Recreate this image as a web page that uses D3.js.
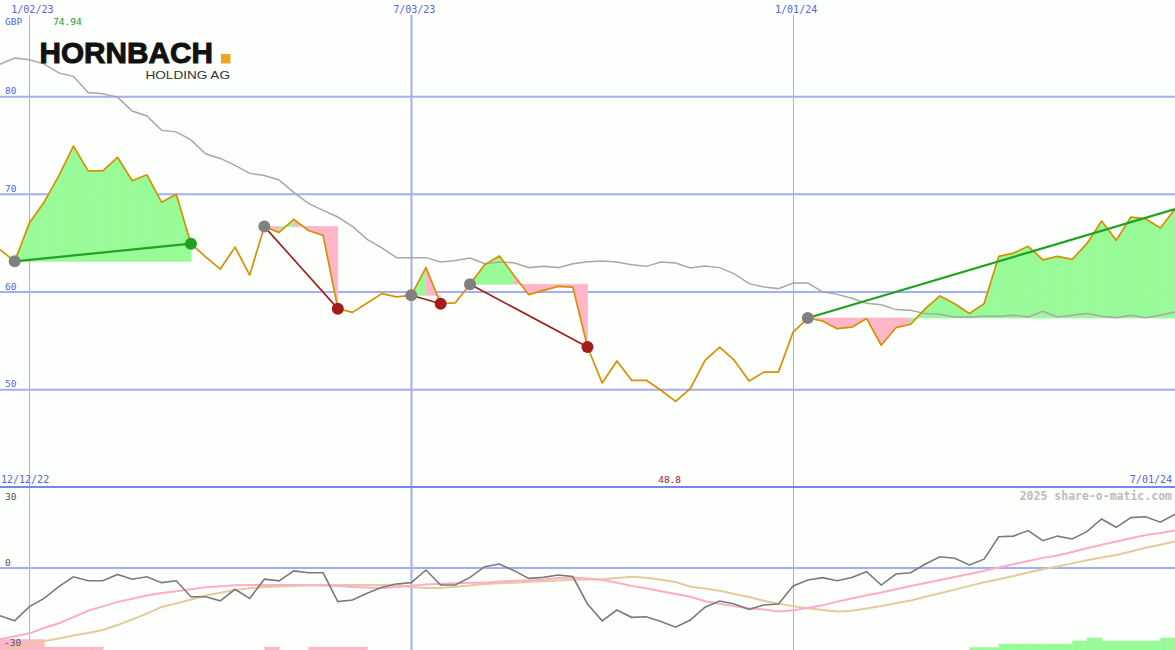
<!DOCTYPE html>
<html><head><meta charset="utf-8">
<script src="https://cdn.jsdelivr.net/npm/d3@7"></script>
<style>html,body{margin:0;padding:0;background:#fcfffc;} svg{display:block}</style>
</head><body><svg id="c" width="1175" height="650"></svg>
<script>
// ---------- data (weekly closes, GBP) ----------
const firstWeekLabel = "12/19/22";
const lastWeekLabel = "07/01/24";
const price = [64.34,63.14,67.06,69.2,71.9,74.94,72.4,72.4,73.8,71.4,
  72.0,69.2,70.0,64.95,63.6,62.35,64.6,61.74,66.7,66.1,
  67.44,66.3,65.8,58.3,57.92,58.87,59.84,59.5,59.66,62.5,
  58.8,58.9,60.8,62.8,63.7,61.7,59.73,60.17,60.58,60.5,
  54.37,50.69,52.94,50.96,50.96,49.94,48.8,50.1,53.0,54.37,
  53.0,50.9,51.8,51.8,55.9,57.34,57.03,56.25,56.4,57.28,
  54.55,56.35,56.7,58.3,59.6,58.8,57.8,58.8,63.65,63.99,
  64.68,63.3,63.65,63.35,64.95,67.27,65.3,67.68,67.5,66.55,68.5];
const longAverage = [83.31,83.95,83.79,83.36,82.44,82.08,80.44,80.31,79.96,78.53,
  78.03,76.55,76.4,75.58,74.15,73.68,72.97,72.15,71.94,71.48,
  70.2,69.08,68.36,67.68,66.72,65.39,64.52,63.52,63.52,63.52,
  63.07,63.24,63.48,62.9,63.07,63.0,62.5,62.63,62.5,62.9,
  63.09,63.17,63.07,62.8,62.63,63.07,62.97,62.46,62.66,62.5,
  61.86,60.86,60.51,60.35,60.92,60.92,60.02,59.76,59.36,58.84,
  58.69,58.2,58.13,57.79,57.72,57.44,57.44,57.51,57.51,57.62,
  57.44,58.02,57.44,57.62,57.79,57.51,57.38,57.62,57.38,57.62,57.95];
const momentum = [-17.9,-19.8,-14.5,-11.4,-7.0,-3.3,-4.8,-4.8,-2.4,-4.2,
  -3.3,-5.5,-4.8,-10.8,-10.8,-12.3,-8.0,-11.4,-4.2,-4.8,
  -1.1,-1.8,-1.8,-12.6,-12.0,-9.5,-7.2,-6.0,-5.5,-0.75,
  -6.4,-6.4,-3.5,0.6,1.8,-1.0,-3.9,-3.5,-2.6,-3.2,
  -13.5,-19.8,-15.75,-18.5,-18.3,-20.1,-22.2,-19.5,-14.7,-12.4,
  -13.5,-15.5,-13.9,-13.5,-6.75,-4.5,-3.6,-4.8,-3.6,-1.4,
  -6.4,-2.25,-1.8,1.8,5.1,4.4,1.4,4.0,14.2,14.5,
  17.0,12.4,14.5,13.2,16.5,22.3,18.5,22.9,23.3,20.8,24.4];
const momentumFast = [-26.7,-25.6,-24.5,-22.5,-20.7,-18.4,-16.05,-14.4,-12.7,-11.5,
  -10.35,-9.4,-8.7,-7.95,-7.2,-6.8,-6.5,-6.4,-6.4,-6.4,
  -6.4,-6.45,-6.55,-6.75,-7.1,-7.35,-7.5,-7.1,-6.7,-6.2,
  -5.9,-5.7,-5.55,-5.5,-5.1,-4.8,-4.65,-4.4,-3.75,-3.6,
  -3.9,-4.5,-5.55,-6.7,-7.6,-8.7,-9.75,-10.8,-12.45,-13.4,
  -14.3,-15.2,-15.6,-16.3,-15.8,-15.0,-14.0,-12.6,-11.4,-10.2,
  -9.15,-7.95,-6.75,-5.6,-4.5,-3.4,-2.25,-1.05,0.2,1.7,
  3.2,4.6,5.7,7.3,9.0,10.6,12.0,13.5,15.0,15.9,17.0];
const momentumSlow = [-31.1,-29.8,-28.5,-27.45,-26.4,-25.35,-24.4,-23.25,-21.4,-19.3,
  -17.1,-14.6,-13.3,-11.8,-10.3,-9.25,-8.25,-7.6,-7.1,-6.9,
  -6.75,-6.5,-6.4,-6.4,-6.4,-6.4,-6.4,-6.2,-7.2,-7.5,
  -7.5,-7.05,-6.55,-6.0,-5.75,-5.5,-5.2,-5.0,-4.65,-4.4,
  -4.3,-4.2,-3.75,-3.25,-3.7,-4.4,-5.25,-7.0,-7.7,-8.5,
  -9.75,-10.9,-12.3,-13.4,-14.3,-15.1,-15.75,-16.35,-16.05,-15.15,
  -14.25,-13.2,-12.15,-10.8,-9.45,-8.1,-6.7,-5.35,-4.2,-3.0,
  -1.7,-0.5,0.7,2.1,3.5,4.8,5.9,7.5,9.2,10.6,12.0];
const signalBars = [-3.5,-3.5,-3.5,-1,-1,-1,-1,0,0,0,
  0,0,0,0,0,0,0,0,-1,0,
  0,-1,-1,-1,-1,0,0,0,0,0,
  0,0,0,0,0,0,0,0,0,0,
  0,0,0,0,0,0,0,0,0,0,
  0,0,0,0,0,0,0,0,0,0,
  0,0,0,0,0,0,0.9,0.9,2,2,
  2,2,2,3,4,3,3,3,3,4,4];
// trend segments: week index where each starts / ends
const trendStart = [1,18,28,32,55];
const trendEnd   = [13,23,30,40,80];
const dateTicks = ["1/02/23","7/03/23","1/01/24"];
const priceTicks = [80,70,60,50];
const momentumTicks = [30,0,-30];
const currencyLabel = "GBP";
const startLabel = "12/12/22";
const endLabel = "7/01/24";
const creditLabel = "2025 share-o-matic.com";

// ---------- setup ----------
const W = 1175, H = 650;
const svg = d3.select("#c");
const parse = d3.timeParse("%m/%d/%y");
const firstWeek = parse(firstWeekLabel), lastWeek = parse(lastWeekLabel);
const dates = price.map((_, i) => d3.timeDay.offset(firstWeek, 7 * i));
const x = d3.scaleTime().domain([firstWeek, lastWeek]).range([0, W]);
const y = d3.scaleLinear().domain([50, 80]).range([389.7, 96.7]);
const ym = d3.scaleLinear().domain([-30, 0, 30]).range([648, 568, 502]);
const yb = d3.scaleLinear().domain([0, 4]).range([0, 12.3]);

const C = {
  bg: "#fcfffc", grid: "#a4aef5", sep: "#7786ee", blue: "#5663ef",
  price: "#d99000", avg: "#a8a8a8", green: "#98fb98", pink: "#ffb6c8",
  trendUp: "#21a021", trendDown: "#a31b1b", dotGray: "#808080",
  mom: "#7a7a7a", momFast: "#ffadc6", momSlow: "#e4cb9d"
};
svg.append("rect").attr("width", W).attr("height", H).attr("fill", C.bg);

const mono = "'DejaVu Sans Mono', 'Liberation Mono', monospace";

// ---------- grid ----------
const g = svg.append("g");
g.selectAll("line.h").data(priceTicks).join("line")
  .attr("x1", 0).attr("x2", W).attr("y1", d => y(d)).attr("y2", d => y(d))
  .attr("stroke", C.grid).attr("stroke-width", 2);
g.append("line").attr("x1", 0).attr("x2", W).attr("y1", ym(0)).attr("y2", ym(0))
  .attr("stroke", C.grid).attr("stroke-width", 2);
const tickDates = dateTicks.map(parse);
g.selectAll("line.v").data(tickDates).join("line")
  .attr("x1", d => Math.round(x(d)) + 0.5).attr("x2", d => Math.round(x(d)) + 0.5)
  .attr("y1", 15).attr("y2", H)
  .attr("stroke", C.grid).attr("stroke-width", d => d.getMonth() === 6 ? 2 : 1);
g.append("line").attr("x1", 0).attr("x2", W).attr("y1", 487).attr("y2", 487)
  .attr("stroke", C.sep).attr("stroke-width", 2);

// ---------- trend fills ----------
const fills = svg.append("g");
trendStart.forEach((s, k) => {
  const e = trendEnd[k], base = price[s];
  for (let i = s; i < e; i++) {
    const pts = [[x(dates[i]), y(base)], [x(dates[i]), y(price[i])],
                 [x(dates[i + 1]), y(price[i + 1])], [x(dates[i + 1]), y(base)]];
    const col = price[i + 1] >= base ? C.green : C.pink;
    fills.append("path").attr("d", "M" + pts.join("L") + "Z")
      .attr("fill", col).attr("stroke", col).attr("stroke-width", 0.7);
  }
});

// ---------- bottom bars ----------
svg.append("g").selectAll("rect").data(signalBars.map((v, i) => ({v, i})).filter(d => d.v !== 0)).join("rect")
  .attr("x", d => x(dates[d.i]))
  .attr("width", d => x(d3.timeDay.offset(dates[d.i], 7)) - x(dates[d.i]) + 0.5)
  .attr("y", d => H - yb(Math.abs(d.v)))
  .attr("height", d => yb(Math.abs(d.v)))
  .attr("fill", d => d.v > 0 ? C.green : C.pink);

// ---------- lines ----------
const lineP = d3.line().x((d, i) => x(dates[i])).y(d => y(d));
const lineM = d3.line().x((d, i) => x(dates[i])).y(d => ym(d));
svg.append("path").attr("d", lineP(longAverage)).attr("fill", "none")
  .attr("stroke", C.avg).attr("stroke-width", 1.5);
svg.append("path").attr("d", lineM(momentumSlow)).attr("fill", "none")
  .attr("stroke", C.momSlow).attr("stroke-width", 2);
svg.append("path").attr("d", lineM(momentumFast)).attr("fill", "none")
  .attr("stroke", C.momFast).attr("stroke-width", 2);
svg.append("path").attr("d", lineM(momentum)).attr("fill", "none")
  .attr("stroke", C.mom).attr("stroke-width", 1.6);
svg.append("path").attr("d", lineP(price)).attr("fill", "none")
  .attr("stroke", C.price).attr("stroke-width", 1.7).attr("stroke-linejoin", "round");

// ---------- trend lines & dots ----------
const tl = svg.append("g");
trendStart.forEach((s, k) => {
  const e = trendEnd[k];
  const up = price[e] > price[s];
  tl.append("line")
    .attr("x1", x(dates[s])).attr("y1", y(price[s]))
    .attr("x2", x(dates[e])).attr("y2", y(price[e]))
    .attr("stroke", up ? C.trendUp : C.trendDown).attr("stroke-width", up ? 2.2 : 1.6);
});
trendStart.forEach((s, k) => {
  const e = trendEnd[k];
  const up = price[e] > price[s];
  tl.append("circle").attr("cx", x(dates[s])).attr("cy", y(price[s])).attr("r", 6)
    .attr("fill", C.dotGray);
  if (e < price.length - 1)
    tl.append("circle").attr("cx", x(dates[e])).attr("cy", y(price[e])).attr("r", 6)
      .attr("fill", up ? C.trendUp : C.trendDown);
});

// ---------- text ----------
const t = svg.append("g").attr("font-family", mono);
t.selectAll("text.d").data(dateTicks).join("text")
  .attr("x", d => x(parse(d)) + 3).attr("y", 12.5).attr("text-anchor", "middle")
  .attr("font-size", 10).attr("fill", C.blue).text(d => d);
t.selectAll("text.p").data(priceTicks).join("text")
  .attr("x", 5).attr("y", d => y(d) - 2.5).attr("font-size", 9.5)
  .attr("fill", C.blue).text(d => d);
t.selectAll("text.m").data(momentumTicks).join("text")
  .attr("x", d => d < 0 ? 4 : 5).attr("y", d => ym(d) - 2.5).attr("font-size", 9.5)
  .attr("fill", "#555").text(d => String(d));
t.append("text").attr("x", 5).attr("y", 25).attr("font-size", 9.5).attr("fill", C.blue).text(currencyLabel);
const maxI = d3.maxIndex(price), minI = d3.minIndex(price);
t.append("text").attr("x", x(dates[maxI]) - 6).attr("y", 25).attr("text-anchor", "middle")
  .attr("font-size", 9.5).attr("fill", "#1e9a1e").text(d3.format(".2f")(price[maxI]));
t.append("text").attr("x", x(dates[minI]) - 6).attr("y", 482.5).attr("text-anchor", "middle")
  .attr("font-size", 9.5).attr("fill", "#a31b1b").text(d3.format(".1f")(price[minI]));
t.append("text").attr("x", 1).attr("y", 483).attr("font-size", 10).attr("fill", C.blue).text(startLabel);
t.append("text").attr("x", 1172).attr("y", 483).attr("text-anchor", "end").attr("font-size", 10).attr("fill", C.blue).text(endLabel);
t.append("text").attr("x", 1172).attr("y", 500).attr("text-anchor", "end").attr("font-size", 11.5)
  .attr("font-weight", "bold").attr("fill", "#bcbcbc").text(creditLabel);

// ---------- logo ----------
const logo = svg.append("g").attr("font-family", "'Liberation Sans', Arial, sans-serif");
logo.append("text").attr("x", 39.5).attr("y", 63).attr("font-size", 30).attr("font-weight", "bold")
  .attr("fill", "#111").attr("stroke", "#111").attr("stroke-width", 1)
  .attr("textLength", 173.5).attr("lengthAdjust", "spacingAndGlyphs").text("HORNBACH");
logo.append("rect").attr("x", 221).attr("y", 54).attr("width", 9.5).attr("height", 9.5).attr("fill", "#f0a325");
logo.append("text").attr("x", 145.5).attr("y", 79.2).attr("font-size", 11)
  .attr("fill", "#333").attr("textLength", 84.5).attr("lengthAdjust", "spacingAndGlyphs").text("HOLDING AG");
</script></body></html>
